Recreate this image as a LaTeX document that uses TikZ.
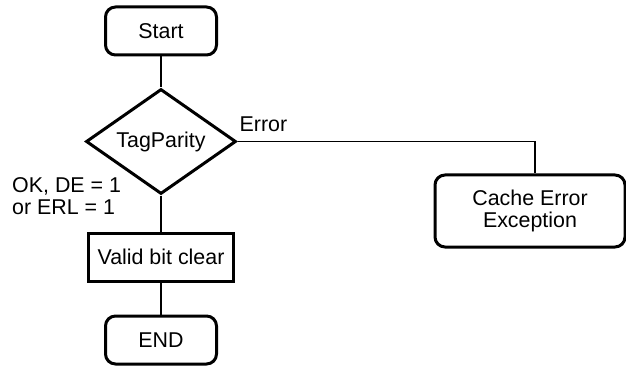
\documentclass[tikz,border=0pt]{standalone}
\usepackage{fontspec}
\setmainfont{Liberation Sans}
\usetikzlibrary{shapes.geometric, positioning}

\begin{document}
\begin{tikzpicture}[x=1pt, y=-1pt,
  every node/.style={font=\fontsize{21.4}{22.5}\selectfont},
  term/.style={rectangle, draw, line width=3pt, rounded corners=10pt, minimum width=111pt, minimum height=48pt, inner sep=0pt},
  decision/.style={diamond, draw, line width=3pt, aspect=1.5, minimum width=150pt, minimum height=105pt, inner sep=0pt},
  action/.style={rectangle, draw, line width=3pt, minimum width=145pt, minimum height=48pt, inner sep=0pt},
  exc/.style={rectangle, draw, line width=3pt, rounded corners=10pt, minimum width=190pt, minimum height=72pt, align=center, inner sep=0pt},
  lbl/.style={inner sep=0pt},
  conn/.style={line width=1.8pt}
]
\useasboundingbox (0,0) rectangle (626,366);
\node[term] (start) at (161,31) {Start};
\node[decision, below=31pt of start] (tag) {TagParity};
\node[action, below=36pt of tag] (valid) {Valid bit clear};
\node[term, below=32pt of valid] (endnode) {END};
\node[exc] (cache) at (530,211) {Cache Error\\Exception};
\node[lbl, anchor=base west, xshift=2pt, yshift=10pt] (errlbl) at (tag.east) {Error};
\node[lbl, align=left, anchor=north west] (oklbl) at (12,177) {OK, DE = 1\\or ERL = 1};
\draw[conn] (start) -- (tag);
\draw[conn] (tag) -- (valid);
\draw[conn] (valid) -- (endnode);
\draw[conn] (tag.east) -| ([xshift=5pt]cache.north);
\end{tikzpicture}
\end{document}
